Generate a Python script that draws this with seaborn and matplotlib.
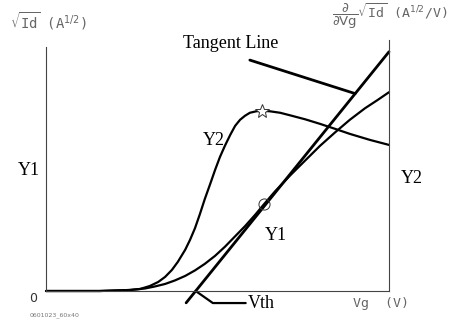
import numpy as np
import pandas as pd
import seaborn as sns
import matplotlib.pyplot as plt

# sqrt(Id) curve (Y1) and its derivative (Y2), arbitrary units vs Vg
vg_y1 = [0.0, 1.10, 1.71, 2.02, 2.22, 2.43, 2.63, 2.84, 3.04, 3.24, 3.45, 3.65,
         3.86, 4.06, 4.27, 4.45, 4.67, 4.98, 5.29, 5.59, 5.90, 6.20, 6.51, 6.76, 7.00]
y1 = [0.0, 0.0, 0.02, 0.05, 0.09, 0.14, 0.21, 0.30, 0.41, 0.54, 0.70, 0.88,
      1.09, 1.29, 1.52, 1.73, 1.98, 2.30, 2.60, 2.89, 3.16, 3.41, 3.64, 3.80, 3.96]

vg_y2 = [0.0, 1.10, 1.71, 1.92, 2.12, 2.29, 2.43, 2.57, 2.69, 2.84, 2.94, 3.04,
         3.14, 3.24, 3.35, 3.45, 3.55, 3.65, 3.76, 3.86, 3.96, 4.06, 4.16, 4.29,
         4.41, 4.57, 4.78, 4.98, 5.29, 5.59, 5.90, 6.20, 6.61, 7.00]
y2 = [0.0, 0.0, 0.02, 0.04, 0.10, 0.18, 0.28, 0.42, 0.58, 0.82, 1.02, 1.25,
      1.53, 1.83, 2.13, 2.41, 2.67, 2.89, 3.11, 3.29, 3.41, 3.49, 3.55, 3.58,
      3.59, 3.58, 3.55, 3.50, 3.42, 3.33, 3.23, 3.13, 3.01, 2.91]

# tangent line through the max-slope point of Y1
vth = 3.055
slope = 1.208
tangent_x = [2.86, 7.0]
tangent_point = 4.45

df1 = pd.DataFrame({"Vg": vg_y1, "val": y1})
df2 = pd.DataFrame({"Vg": vg_y2, "val": y2})
df_t = pd.DataFrame({"Vg": tangent_x, "val": [slope * (x - vth) for x in tangent_x]})

sns.set_style("white")
plt.rcParams["mathtext.fontset"] = "dejavusans"

fig = plt.figure(figsize=(4.76, 3.2), dpi=100)
ax = fig.add_axes([46 / 476, 29 / 320, 343 / 476, 251 / 320])
ax.set_xlim(0, 7)
ax.set_ylim(0, 5)

sns.lineplot(data=df1, x="Vg", y="val", ax=ax, color="black", lw=1.6, estimator=None, sort=False)
sns.lineplot(data=df2, x="Vg", y="val", ax=ax, color="black", lw=1.6, estimator=None, sort=False)
sns.lineplot(data=df_t, x="Vg", y="val", ax=ax, color="black", lw=2.0, estimator=None, sort=False)
for l in ax.lines:
    l.set_clip_on(False)
    l.set_solid_joinstyle("round")

# markers
i_star = int(np.argmax(y2))
ax.plot(vg_y2[i_star], y2[i_star], marker="*", ms=10, mfc="white", mec="#333", mew=0.7, clip_on=False)
i_circ = vg_y1.index(tangent_point)
ax.plot(vg_y1[i_circ], y1[i_circ], marker="o", ms=8, mfc="none", mec="#333", mew=0.7, clip_on=False)

# spines
ax.spines["top"].set_visible(False)
for side in ["left", "right", "bottom"]:
    ax.spines[side].set_color("#444")
    ax.spines[side].set_linewidth(0.8)
ax.spines["left"].set_bounds(0, 4.86)
ax.set_xticks([])
ax.set_yticks([])
ax.set_xlabel("")
ax.set_ylabel("")

serif = {"family": "Liberation Serif", "size": 13, "color": "black"}
ax.text(-0.12, 2.31, "Y1", ha="right", va="baseline", fontdict=serif, clip_on=False)
ax.text(3.20, 2.91, "Y2", ha="left", va="baseline", fontdict=serif)
ax.text(7.25, 2.15, "Y2", ha="left", va="baseline", fontdict=serif, clip_on=False)
ax.text(4.47, 1.02, "Y1", ha="left", va="baseline", fontdict=serif)

# tangent line label + pointer
ax.text(2.80, 4.84, "Tangent Line", ha="left", va="baseline", fontdict=serif)
ax.plot([4.16, 6.31], [4.60, slope * (6.31 - vth)], color="black", lw=2.0)

# Vth pointer
ax.plot([vth, vth + 0.35, vth + 1.02], [0, -0.24, -0.24], color="black", lw=1.6, clip_on=False)
ax.text(vth + 1.07, -0.24, "Vth", ha="left", va="center", fontdict=serif, clip_on=False)

gray = "#666"
mono = "DejaVu Sans Mono"
fig.text(353 / 476, 1 - 304 / 320, "Vg  (V)", ha="left", va="center",
         family=mono, size=9.5, color=gray)
fig.text(33 / 476, 1 - 299 / 320, "0", ha="center", va="center", family="DejaVu Sans", size=9, color="#333")
fig.text(30 / 476, 1 - 315 / 320, "0601023_60x40", ha="left", va="center", size=4.5, color="#777")
fig.text(10 / 476, 1 - 28 / 320, r"$\sqrt{\mathtt{Id}}$ (A$^{1/2}$)", ha="left", va="baseline",
         family=mono, size=10, color=gray)
fig.text(332 / 476, 1 - 16 / 320,
         r"$\dfrac{\partial}{\partial \mathrm{Vg}}\sqrt{\mathtt{Id}}$ (A$^{1/2}$/V)",
         ha="left", va="center", family=mono, size=9.5, color=gray)

fig.savefig("out.png", dpi=100)
